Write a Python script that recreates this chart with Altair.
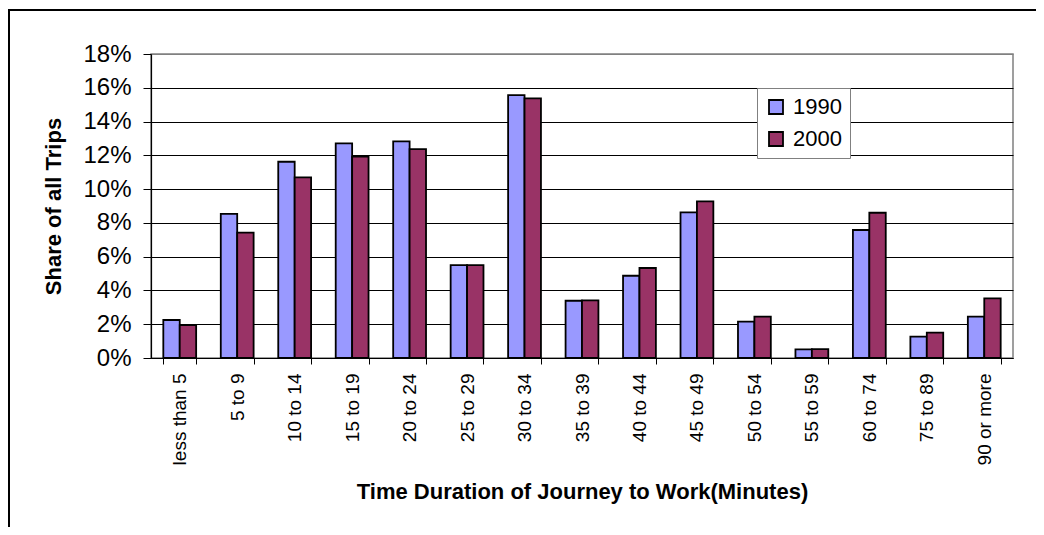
import altair as alt
import pandas as pd

categories = ["less than 5", "5 to 9", "10 to 14", "15 to 19", "20 to 24", "25 to 29",
              "30 to 34", "35 to 39", "40 to 44", "45 to 49", "50 to 54", "55 to 59",
              "60 to 74", "75 to 89", "90 or more"]
years = ["1990", "2000"]
share_1990 = [2.25, 8.53, 11.62, 12.71, 12.83, 5.50, 15.57, 3.39, 4.87, 8.62, 2.15, 0.51, 7.58, 1.26, 2.45]
share_2000 = [1.95, 7.42, 10.70, 11.92, 12.37, 5.50, 15.37, 3.41, 5.33, 9.27, 2.45, 0.53, 8.60, 1.50, 3.53]
colors = ["#9999FF", "#993366"]
y_ticks = [0, 0.02, 0.04, 0.06, 0.08, 0.10, 0.12, 0.14, 0.16, 0.18]

rows = []
for c, a, b in zip(categories, share_1990, share_2000):
    rows.append({"cat": c, "year": "1990", "share": a / 100})
    rows.append({"cat": c, "year": "2000", "share": b / 100})
df = pd.DataFrame(rows)

FONT = "Liberation Sans"

bars = alt.Chart(df).mark_bar(stroke="black", strokeWidth=1.8).encode(
    x=alt.X("cat:N", sort=categories,
            scale=alt.Scale(paddingInner=0.4286, paddingOuter=0.2143),
            axis=alt.Axis(title="Time Duration of Journey to Work(Minutes)",
                          labelAngle=-90, tickBand="extent", grid=False,
                          labelFontSize=19, labelPadding=9, tickSize=6,
                          titleFontSize=22, titlePadding=17)),
    xOffset=alt.XOffset("year:N", sort=years,
                        scale=alt.Scale(paddingInner=0, paddingOuter=0)),
    y=alt.Y("share:Q", scale=alt.Scale(domain=[0, 0.18], nice=False),
            axis=alt.Axis(title="Share of all Trips", format=".0%", values=y_ticks,
                          labelFontSize=24, tickSize=8, labelPadding=12,
                          titleFontSize=22, titlePadding=17,
                          gridColor=alt.condition(alt.datum.value > 0.179,
                                                  alt.value("#808080"), alt.value("#000000")))),
    color=alt.Color("year:N", sort=years,
                    scale=alt.Scale(domain=years, range=colors),
                    legend=alt.Legend(title=None, orient="none", legendX=606, legendY=34,
                                      padding=8, strokeColor="#808080", fillColor="white",
                                      symbolType="square", symbolSize=196,
                                      symbolStrokeColor="black", symbolStrokeWidth=1.8,
                                      labelFontSize=22, labelOffset=6, rowPadding=10,
                                      labelFont=FONT, labelColor="black")),
)

one = pd.DataFrame({"d": [0]})
frame_top = alt.Chart(one).mark_rule(stroke="black", strokeWidth=2).encode(
    x=alt.value(-143), x2=alt.value(3000), y=alt.value(-44)
)
frame_left = alt.Chart(one).mark_rule(stroke="black", strokeWidth=2).encode(
    x=alt.value(-142), y=alt.value(-45), y2=alt.value(3000)
)

chart = alt.layer(frame_top, frame_left, bars).properties(
    width=862, height=304,
    autosize=alt.AutoSizeParams(type="none"),
    padding={"left": 143, "top": 46, "right": 23, "bottom": 169},
).configure_view(
    stroke="#808080", strokeWidth=1.5
).configure_axis(
    labelFont=FONT, titleFont=FONT, labelColor="black", titleColor="black",
    domainColor="black", tickColor="black", gridWidth=1, titleFontWeight="bold",
    domainWidth=1.2
)

chart.save("out.html", embed_options={"renderer": "svg", "actions": False})
